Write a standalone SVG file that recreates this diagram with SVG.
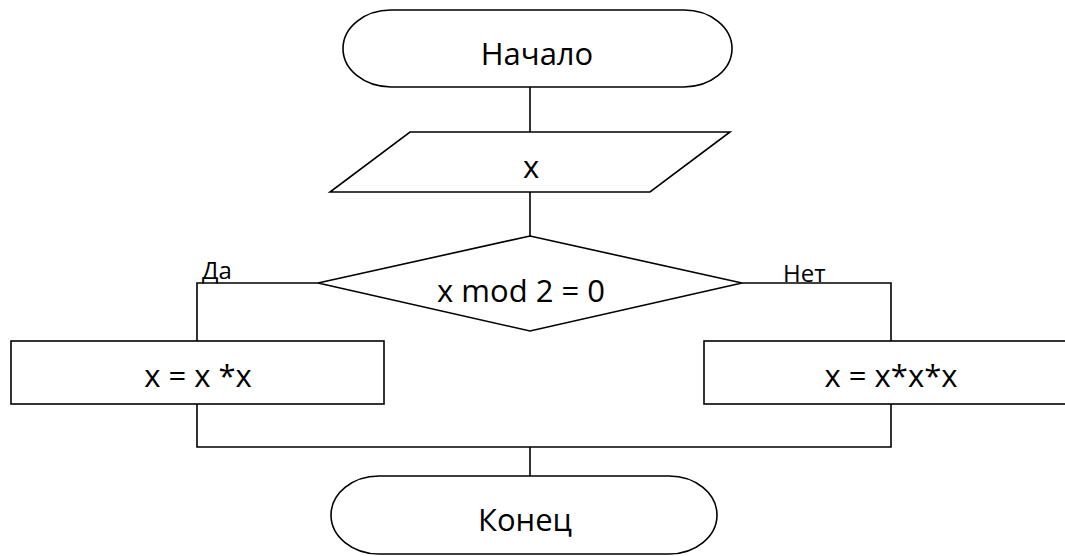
<svg xmlns="http://www.w3.org/2000/svg" width="1065" height="556" viewBox="0 0 1065 556">
<style>
.s{fill:#fff;stroke:#000;stroke-width:1.6}
.c{fill:none;stroke:#000;stroke-width:1.6}
.t{font-family:"Open Sans","Noto Sans","Liberation Sans",sans-serif;font-size:31px;fill:#000;text-anchor:middle}
.l{font-family:"Open Sans","Noto Sans","Liberation Sans",sans-serif;font-size:24px;fill:#000}
</style>
<rect width="1065" height="556" fill="#fff"/>
<g id="connectors">
<line class="c" x1="530" y1="87" x2="530" y2="132"/>
<line class="c" x1="530" y1="192" x2="530" y2="236"/>
<polyline class="c" points="318,283 197,283 197,341"/>
<polyline class="c" points="742,283 891,283 891,341"/>
<polyline class="c" points="197,404 197,447 891,447 891,404"/>
<line class="c" x1="530" y1="447" x2="530" y2="476"/>
</g>
<g id="start">
<rect class="s" x="343" y="10" width="389" height="77" rx="48" ry="38.5"/>
<text class="t" x="537" y="65">Начало</text>
</g>
<g id="input">
<polygon class="s" points="410,132 730,132 650,192 330,192"/>
<text class="t" x="531" y="178">x</text>
</g>
<g id="decision">
<polygon class="s" points="530,236 742,283 530,331 318,283"/>
<text class="t" x="521" y="302">x mod 2 = 0</text>
<text class="l" x="202" y="279">Да</text>
<text class="l" x="783" y="282">Нет</text>
</g>
<g id="yes">
<rect class="s" x="11" y="341" width="373" height="63"/>
<text class="t" x="198" y="387">x = x *x</text>
</g>
<g id="no">
<rect class="s" x="704" y="341" width="380" height="63"/>
<text class="t" x="891" y="387">x = x*x*x</text>
</g>
<g id="end">
<rect class="s" x="331" y="476" width="386" height="78" rx="48" ry="39"/>
<text class="t" x="525" y="531">Конец</text>
</g>
</svg>
